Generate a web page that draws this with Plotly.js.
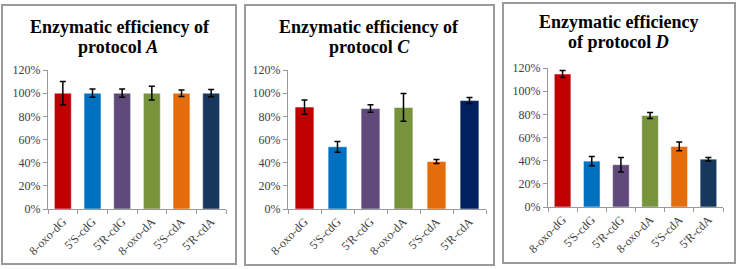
<!DOCTYPE html>
<html>
<head>
<meta charset="utf-8">
<script src="https://cdn.plot.ly/plotly-3.0.1.min.js"></script>
<style>html,body{margin:0;padding:0;background:#fff}#chart{width:737px;height:269px}</style>
</head>
<body>
<div id="chart"></div>
<script>
const categories = ["8-oxo-dG", "5'S-cdG", "5'R-cdG", "8-oxo-dA", "5'S-cdA", "5'R-cdA"];
const valuesA = [100, 100, 100, 100, 100, 100];
const errorsA = [10, 3.5, 3.5, 6, 2.8, 3.2];
const valuesC = [88, 53.7, 86.8, 87.7, 41, 93.6];
const errorsC = [6.2, 4.6, 3.2, 12, 1.8, 2.6];
const valuesD = [114.8, 39.6, 36.5, 79, 52.3, 41.3];
const errorsD = [3, 4, 6.3, 2.5, 3.8, 1.5];
const colorsA = ["#C00000", "#0070C0", "#604A7B", "#77933C", "#E46C0A", "#17375E"];
const colorsC = ["#C00000", "#0070C0", "#604A7B", "#77933C", "#E46C0A", "#002060"];
const colorsD = ["#C00000", "#0070C0", "#604A7B", "#77933C", "#E46C0A", "#17375E"];
const titlesA = ["Enzymatic efficiency of", "protocol <i>A</i>"];
const titlesC = ["Enzymatic efficiency of", "protocol <i>C</i>"];
const titlesD = ["Enzymatic efficiency", "of protocol <i>D</i>"];

const W = 737, H = 269;
const px = x => x / W;
const py = y => 1 - y / H;

function bar(vals, errs, cols, xa, ya) {
  return {
    type: 'bar', x: categories, y: vals, xaxis: xa, yaxis: ya,
    marker: {color: cols, line: {color: 'rgba(255,255,255,0.5)', width: 1}},
    error_y: {type: 'data', array: errs, visible: true, color: '#000', thickness: 1.5, width: 3},
    showlegend: false, hoverinfo: 'skip'
  };
}

const data = [
  bar(valuesA, errorsA, colorsA, 'x', 'y'),
  bar(valuesC, errorsC, colorsC, 'x2', 'y2'),
  bar(valuesD, errorsD, colorsD, 'x3', 'y3')
];

const SERIF = 'Liberation Serif';
const tickFont = {family: SERIF, size: 12, color: '#404040'};
function xax(d0, d1, anchor) {
  return {domain: [px(d0), px(d1)], anchor: anchor, type: 'category', tickangle: -45,
    showline: true, linecolor: '#999', linewidth: 1, ticks: 'outside', tickson: 'boundaries',
    ticklen: 4, tickcolor: '#999', tickfont: tickFont, fixedrange: true, showgrid: false, zeroline: false};
}
function yax(top, bottom, anchor) {
  return {domain: [py(bottom), py(top)], anchor: anchor, range: [0, 120], dtick: 20, ticksuffix: '%',
    showline: true, linecolor: '#999', linewidth: 1, ticks: 'outside', ticklen: 4, tickcolor: '#999',
    tickfont: tickFont, showgrid: false, zeroline: false, fixedrange: true};
}

const titleFont = {family: SERIF, size: 18, color: '#000'};
function titleAnn(text, cx, cy) {
  return {text: '<b>' + text + '</b>', x: px(cx), y: py(cy), xref: 'paper', yref: 'paper',
    xanchor: 'center', yanchor: 'middle', showarrow: false, font: titleFont};
}

function box(x0, y0, x1, y1) {
  return {type: 'rect', xref: 'paper', yref: 'paper', x0: px(x0), x1: px(x1), y0: py(y1), y1: py(y0),
    line: {color: '#9a9a9a', width: 2}, fillcolor: 'rgba(0,0,0,0)'};
}

const layout = {
  width: W, height: H, margin: {l: 0, r: 0, t: 0, b: 0},
  paper_bgcolor: '#fff', plot_bgcolor: 'rgba(0,0,0,0)', bargap: 0.43,
  xaxis: xax(48, 226, 'y'), yaxis: yax(70, 209, 'x'),
  xaxis2: xax(288, 486, 'y2'), yaxis2: yax(70, 209, 'x2'),
  xaxis3: xax(548, 723, 'y3'), yaxis3: yax(68, 207, 'x3'),
  annotations: [
    titleAnn(titlesA[0], 120, 27), titleAnn(titlesA[1], 118, 47),
    titleAnn(titlesC[0], 369, 27), titleAnn(titlesC[1], 369, 47),
    titleAnn(titlesD[0], 618, 22), titleAnn(titlesD[1], 618, 42)
  ],
  shapes: [box(2, 5, 236, 264), box(245, 5, 494, 265), box(503, 3, 735, 263)]
};

Plotly.newPlot('chart', data, layout, {displayModeBar: false, staticPlot: true});
</script>
</body>
</html>
